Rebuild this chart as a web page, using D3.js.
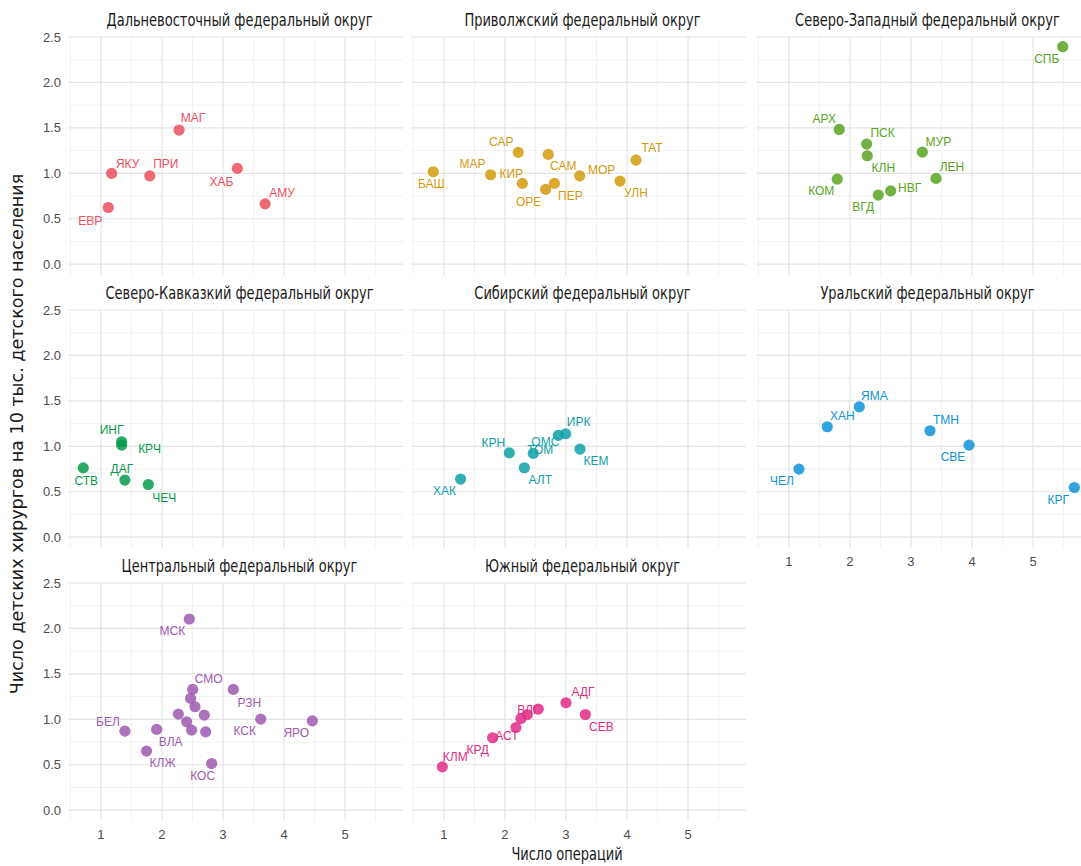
<!DOCTYPE html>
<html>
<head>
<meta charset="utf-8">
<script src="https://cdn.jsdelivr.net/npm/d3@7"></script>
<style>
  body { margin: 0; background: #fff; overflow: hidden; }
  svg { display: block; }
  .strip, .axis-title { font-family: "DejaVu Sans Condensed", "DejaVu Sans", sans-serif; fill: #1a1a1a; }
  .tick-label { font-family: "Liberation Sans", Arial, sans-serif; font-size: 13px; fill: #4d4d4d; }
  .pt-label { font-family: "Liberation Sans", Arial, sans-serif; font-size: 12px; }
</style>
</head>
<body>
<div id="chart"></div>
<script>
// federal districts, in facet order
const districts = [
    "Дальневосточный федеральный округ",
    "Приволжский федеральный округ",
    "Северо-Западный федеральный округ",
    "Северо-Кавказкий федеральный округ",
    "Сибирский федеральный округ",
    "Уральский федеральный округ",
    "Центральный федеральный округ",
    "Южный федеральный округ"
];
const districtColors = ["#eb4f5b", "#d39a0c", "#5aa322", "#089a4c", "#10a0a8", "#0f93da", "#9d5bb0", "#e02c86"];

// regions: code, district index, operations, surgeons per 10k children
const regionCodes = [
    "МАГ", "ЯКУ", "ПРИ", "ХАБ", "АМУ", "ЕВР",
    "БАШ", "МАР", "САР", "КИР", "САМ", "ОРЕ", "ПЕР", "МОР", "УЛН", "ТАТ",
    "СПБ", "АРХ", "ПСК", "КЛН", "МУР", "ЛЕН", "КОМ", "ВГД", "НВГ",
    "ИНГ", "КРЧ", "СТВ", "ДАГ", "ЧЕЧ",
    "ХАК", "КРН", "ТОМ", "АЛТ", "ОМС", "ИРК", "КЕМ",
    "ЯМА", "ХАН", "ЧЕЛ", "ТМН", "СВЕ", "КРГ",
    "МСК", "СМО", "БРЯ", "ВОР", "РЗН", "ИВА", "ЛИП", "ОРЛ", "КСК", "ЯРО", "БЕЛ", "ВЛА", "ТАМ", "ТУЛ", "КЛЖ", "КОС",
    "АДГ", "СЕВ", "ВЛГ", "РОС", "КРМ", "АСТ", "КРД", "КЛМ"
];
const regionDistrict = [
    0, 0, 0, 0, 0, 0,
    1, 1, 1, 1, 1, 1, 1, 1, 1, 1,
    2, 2, 2, 2, 2, 2, 2, 2, 2,
    3, 3, 3, 3, 3,
    4, 4, 4, 4, 4, 4, 4,
    5, 5, 5, 5, 5, 5,
    6, 6, 6, 6, 6, 6, 6, 6, 6, 6, 6, 6, 6, 6, 6, 6,
    7, 7, 7, 7, 7, 7, 7, 7
];
const operations = [
    2.28, 1.175, 1.80, 3.235, 3.69, 1.12,
    0.825, 1.765, 2.218, 2.284, 2.71, 2.667, 2.81, 3.224, 3.885, 4.148,
    5.487, 1.825, 2.273, 2.284, 3.186, 3.41, 1.792, 2.464, 2.667,
    1.339, 1.339, 0.71, 1.393, 1.776,
    1.273, 2.071, 2.464, 2.317, 2.874, 2.995, 3.23,
    2.153, 1.628, 1.164, 3.311, 3.951, 5.677,
    2.448, 2.503, 2.470, 2.541, 3.169, 2.268, 2.694, 2.404, 3.618, 4.464, 1.393, 1.913, 2.486, 2.716, 1.747, 2.814,
    3.0, 3.317, 2.546, 2.366, 2.262, 2.18, 1.798, 0.973
];
const surgeons = [
    1.476, 0.999, 0.972, 1.054, 0.664, 0.624,
    1.017, 0.984, 1.230, 0.889, 1.208, 0.823, 0.889, 0.972, 0.914, 1.145,
    2.393, 1.483, 1.322, 1.193, 1.233, 0.944, 0.936, 0.760, 0.807,
    1.050, 1.013, 0.763, 0.628, 0.580,
    0.639, 0.928, 0.922, 0.764, 1.120, 1.138, 0.969,
    1.435, 1.215, 0.749, 1.171, 1.013, 0.547,
    2.104, 1.329, 1.230, 1.138, 1.329, 1.057, 1.046, 0.972, 1.002, 0.983, 0.870, 0.889, 0.881, 0.862, 0.650, 0.514,
    1.182, 1.053, 1.112, 1.053, 1.009, 0.910, 0.797, 0.477
];
const xTicks = [1, 2, 3, 4, 5];
const yTicks = [0, 0.5, 1, 1.5, 2, 2.5];

// label placement (px from the point), like ggrepel put them; unlisted points get no label
const labelNudge = {
    "МАГ": [14, -12], "ЯКУ": [16, -10], "ПРИ": [16, -12], "ХАБ": [-16, 13], "АМУ": [17, -11], "ЕВР": [-18, 13],
    "БАШ": [-2, 12], "МАР": [-18, -11], "САР": [-17, -11], "КИР": [-11, -10], "САМ": [15, 11], "ОРЕ": [-17, 12],
    "ПЕР": [16, 12], "МОР": [22, -6], "УЛН": [16, 12], "ТАТ": [16, -12],
    "СПБ": [-16, 12], "АРХ": [-15, -11], "ПСК": [16, -11], "КЛН": [16, 12], "МУР": [16, -10], "ЛЕН": [16, -12],
    "КОМ": [-16, 12], "ВГД": [-15, 12], "НВГ": [19, -3],
    "ИНГ": [-10, -12], "КРЧ": [28, 4], "СТВ": [3, 13], "ДАГ": [-3, -11], "ЧЕЧ": [16, 13],
    "ХАК": [-16, 12], "КРН": [-16, -10], "ТОМ": [7, -4], "АЛТ": [16, 12], "ОМС": [-13, 6], "ИРК": [13, -12], "КЕМ": [16, 12],
    "ЯМА": [15, -11], "ХАН": [15, -11], "ЧЕЛ": [-17, 12], "ТМН": [16, -11], "СВЕ": [-16, 12], "КРГ": [-16, 12],
    "МСК": [-17, 12], "СМО": [16, -11], "РЗН": [16, 13], "КСК": [-16, 12], "ЯРО": [-16, 12], "БЕЛ": [-17, -9],
    "ВЛА": [14, 12], "КЛЖ": [16, 12], "КОС": [-9, 12],
    "АДГ": [17, -11], "СЕВ": [16, 12], "ВЛГ": [-10, 1], "АСТ": [-9, 8], "КРД": [-15, 12], "КЛМ": [13, -10]
};

const regions = regionCodes.map((code, i) => ({
    code: code,
    district: regionDistrict[i],
    ops: operations[i],
    surg: surgeons[i]
}));

const W = 1081, H = 866;
const panelW = 335, panelH = 238;
const colX = [68, 411, 756];
const rowY = [37, 310, 583];
const squeeze = 0.85; // the titles in the source are narrow

const svg = d3.select("#chart")
    .append("svg")
    .attr("width", W)
    .attr("height", H);

const x = d3.scaleLinear().domain([0.46, 5.95]).range([0, panelW]);
const y = d3.scaleLinear().domain([-0.119, 2.5]).range([panelH, 0]);

districts.forEach((name, di) => {
    const col = di % 3, row = Math.floor(di / 3);
    const g = svg.append("g")
        .attr("transform", `translate(${colX[col]},${rowY[row]})`);

    // grid: minor first, then major
    const xMinor = d3.range(0.5, 6, 1);
    const yMinor = d3.range(0.25, 2.5, 0.5);
    g.selectAll(".xminor").data(xMinor).join("line")
        .attr("x1", d => x(d)).attr("x2", d => x(d))
        .attr("y1", 0).attr("y2", panelH)
        .attr("stroke", "#efefef").attr("stroke-width", 0.8);
    g.selectAll(".yminor").data(yMinor).join("line")
        .attr("y1", d => y(d)).attr("y2", d => y(d))
        .attr("x1", 0).attr("x2", panelW)
        .attr("stroke", "#efefef").attr("stroke-width", 0.8);
    g.append("g").selectAll("line").data(xTicks).join("line")
        .attr("x1", d => x(d)).attr("x2", d => x(d))
        .attr("y1", 0).attr("y2", panelH)
        .attr("stroke", "#e4e4e4").attr("stroke-width", 1.2);
    g.append("g").selectAll("line").data(yTicks).join("line")
        .attr("y1", d => y(d)).attr("y2", d => y(d))
        .attr("x1", 0).attr("x2", panelW)
        .attr("stroke", "#e4e4e4").attr("stroke-width", 1.2);

    // strip title
    g.append("text")
        .attr("class", "strip")
        .attr("transform", `translate(${panelW / 2 + 4},-11) scale(${squeeze},1)`)
        .attr("text-anchor", "middle")
        .style("font-size", "17px")
        .text(name);

    // y tick labels on first column
    if (col === 0) {
        g.selectAll(".ylab").data(yTicks).join("text")
            .attr("class", "tick-label")
            .attr("x", -7)
            .attr("y", d => y(d))
            .attr("dy", "0.35em")
            .attr("text-anchor", "end")
            .text(d => d3.format(".1f")(d));
    }
    // x tick labels on the lowest panel of each column
    const lowest = (row === 2) || (row === 1 && col === 2);
    if (lowest) {
        g.selectAll(".xlab").data(xTicks).join("text")
            .attr("class", "tick-label")
            .attr("x", d => x(d))
            .attr("y", panelH + 18)
            .attr("text-anchor", "middle")
            .text(d => d);
    }

    const pts = regions.filter(r => r.district === di);
    const color = districtColors[di];

    // labels under the points, as in the original
    g.selectAll(".pt-label")
        .data(pts.filter(r => labelNudge[r.code]))
        .join("text")
        .attr("class", "pt-label")
        .attr("x", r => x(r.ops) + labelNudge[r.code][0])
        .attr("y", r => y(r.surg) + labelNudge[r.code][1])
        .attr("dy", "0.35em")
        .attr("text-anchor", "middle")
        .attr("fill", color)
        .text(r => r.code);

    g.selectAll("circle")
        .data(pts)
        .join("circle")
        .attr("cx", r => x(r.ops))
        .attr("cy", r => y(r.surg))
        .attr("r", 5.6)
        .attr("fill", color)
        .attr("fill-opacity", 0.85);
});

// axis titles
svg.append("text")
    .attr("class", "axis-title")
    .attr("transform", `translate(567,860) scale(${squeeze},1)`)
    .attr("text-anchor", "middle")
    .style("font-size", "17px")
    .text("Число операций");

svg.append("text")
    .attr("class", "axis-title")
    .attr("transform", "translate(23,434) rotate(-90) scale(1.15,1)")
    .attr("text-anchor", "middle")
    .style("font-size", "17px")
    .text("Число детских хирургов на 10 тыс. детского населения");
</script>
</body>
</html>
